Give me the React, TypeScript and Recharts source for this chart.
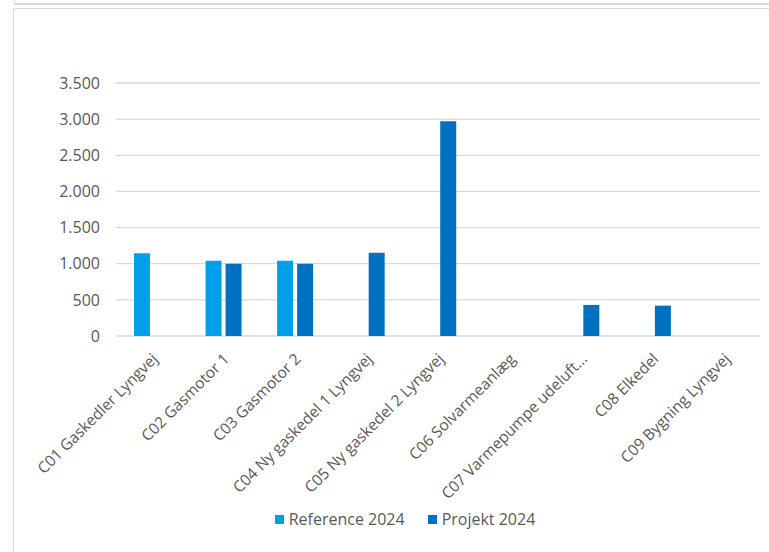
import React from "react";
import { BarChart, Bar, XAxis, YAxis, CartesianGrid, Legend } from "recharts";

const categories = [
  "C01 Gaskedler Lyngvej",
  "C02 Gasmotor 1",
  "C03 Gasmotor 2",
  "C04 Ny gaskedel 1 Lyngvej",
  "C05 Ny gaskedel 2 Lyngvej",
  "C06 Solvarmeanlæg",
  "C07 Varmepumpe udeluft…",
  "C08 Elkedel",
  "C09 Bygning Lyngvej",
];
const reference2024 = [1145, 1040, 1040, null, null, null, null, null, null];
const projekt2024 = [null, 1000, 1000, 1150, 2970, null, 430, 420, null];
const yTicks = [0, 500, 1000, 1500, 2000, 2500, 3000, 3500];

const REF_COLOR = "#009FEA";
const PROJ_COLOR = "#0070C0";
const TEXT = "#595959";
const FONT = "'Open Sans', sans-serif";

const data = categories.map((name, i) => ({
  name,
  reference: reference2024[i],
  projekt: projekt2024[i],
}));

const fmt = (v: number) => v.toLocaleString("de-DE");

function XTick({ x, y, payload }: any) {
  return (
    <text
      transform={`translate(${x + 4},${y + 13}) rotate(-45)`}
      textAnchor="end"
      dominantBaseline="middle"
      fill={TEXT}
      fontSize={15.5}
      fontFamily={FONT}
    >
      {payload.value}
    </text>
  );
}

function LegendBox() {
  const items = [
    { label: "Reference 2024", color: REF_COLOR },
    { label: "Projekt 2024", color: PROJ_COLOR },
  ];
  return (
    <div style={{ display: "flex", justifyContent: "center", gap: 23, paddingLeft: 50 }}>
      {items.map((it) => (
        <div key={it.label} style={{ display: "flex", alignItems: "center", gap: 5 }}>
          <div style={{ width: 9, height: 9, background: it.color }} />
          <span style={{ color: TEXT, fontSize: 16, fontFamily: FONT }}>{it.label}</span>
        </div>
      ))}
    </div>
  );
}

export default function App() {
  return (
    <div style={{ position: "absolute", left: 0, top: 0, width: 769, height: 552, background: "#fff", overflow: "hidden" }}>
      <div style={{ position: "absolute", left: 14, top: -2, right: -2, height: 5, borderLeft: "1px solid #d9d9d9", borderBottom: "2px solid #d9d9d9" }} />
      <div style={{ position: "absolute", left: 13, top: 8, right: -2, bottom: -2, borderLeft: "1px solid #d9d9d9", borderTop: "1px solid #d9d9d9" }} />
      <div style={{ position: "absolute", left: 0, top: 0 }}>
        <BarChart
          width={769}
          height={552}
          data={data}
          margin={{ top: 83, right: 9, left: 0, bottom: 8 }}
          barSize={16}
          barGap={4}
        >
          <CartesianGrid vertical={false} stroke="#d9d9d9" strokeWidth={1.3} />
          <XAxis
            dataKey="name"
            interval={0}
            height={172}
            axisLine={false}
            tickLine={false}
            tick={<XTick />}
          />
          <YAxis
            width={116}
            domain={[0, 3500]}
            ticks={yTicks}
            tickFormatter={fmt}
            axisLine={false}
            tickLine={false}
            tickSize={0}
            tickMargin={16}
            tick={{ fill: TEXT, fontSize: 16, fontFamily: FONT }}
          />
          <Legend verticalAlign="bottom" height={36} content={<LegendBox />} />
          <Bar dataKey="reference" name="Reference 2024" fill={REF_COLOR} isAnimationActive={false} />
          <Bar dataKey="projekt" name="Projekt 2024" fill={PROJ_COLOR} isAnimationActive={false} />
        </BarChart>
      </div>
    </div>
  );
}
